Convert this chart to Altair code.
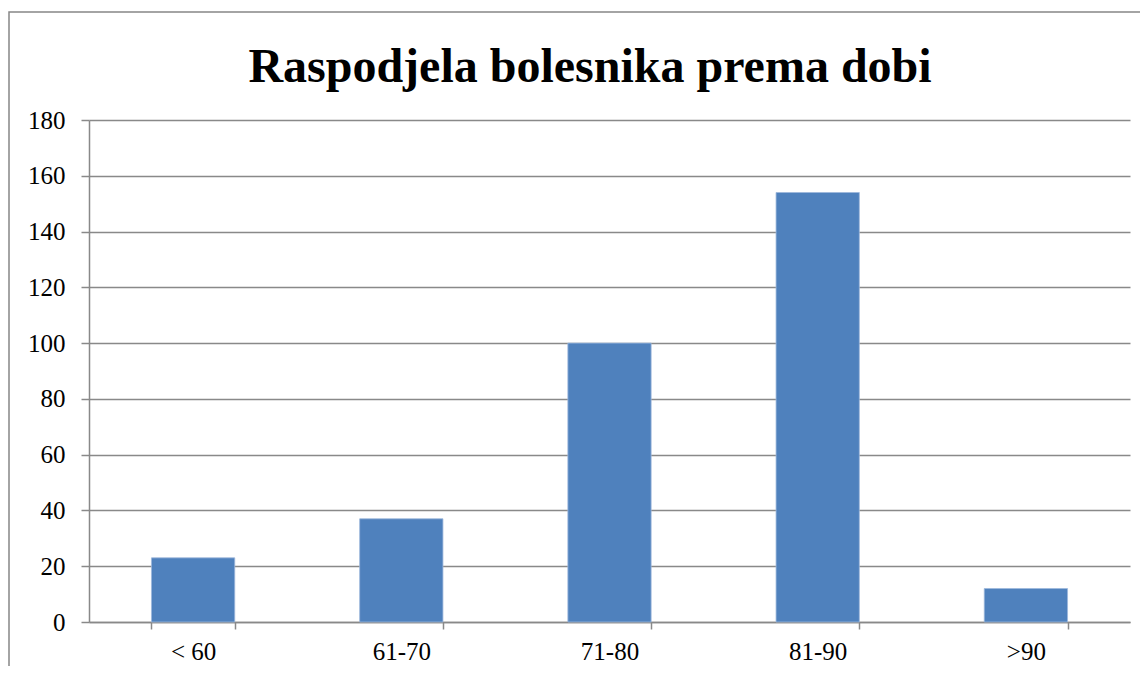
import altair as alt
import pandas as pd

title_text = "Raspodjela bolesnika prema dobi"
categories = ["< 60", "61-70", "71-80", "81-90", ">90"]
counts = [23, 37, 100, 154, 12]
y_ticks = [0, 20, 40, 60, 80, 100, 120, 140, 160, 180]

df = pd.DataFrame({"dob": categories, "broj": counts})

FONT = "Liberation Serif"
GRID = "#898989"

bars = alt.Chart(df).mark_bar(color="#4F81BD", stroke="#9db8dc", strokeWidth=0.8).encode(
    x=alt.X("dob:N", sort=categories, title=None,
            scale=alt.Scale(paddingInner=0.6, paddingOuter=0.3),
            axis=alt.Axis(labelAngle=0, tickBand="extent", tickSize=7,
                          labelPadding=10, grid=False)),
    y=alt.Y("broj:Q", title=None,
            scale=alt.Scale(domain=[0, 180], nice=False),
            axis=alt.Axis(values=y_ticks, tickSize=8, labelPadding=16, grid=True)),
)

frame = alt.Chart(pd.DataFrame({"a": [0]})).mark_rect(
    fillOpacity=0, stroke="#878787", strokeWidth=1.5
).encode(
    x=alt.value(-80), x2=alt.value(1300), y=alt.value(-108), y2=alt.value(800)
)

title = alt.Chart(pd.DataFrame({"t": [title_text]})).mark_text(
    font=FONT, fontSize=48, fontWeight="bold", color="black",
    align="center", baseline="alphabetic"
).encode(
    x=alt.value(501), y=alt.value(-38), text="t:N"
)

chart = alt.layer(bars, frame, title).properties(
    width=1041, height=502,
    autosize=alt.AutoSizeParams(type="none"),
    padding={"left": 81, "top": 112, "right": 10, "bottom": 44},
).configure_view(stroke=None).configure_axis(
    gridDash=[], labelFont=FONT, labelFontSize=25, labelColor="black",
    tickColor=GRID, tickWidth=1.5, domainColor=GRID, domainWidth=1.5,
    gridColor=GRID, gridWidth=1.5, gridOpacity=1
)

chart.save("out.html", embed_options={"renderer": "svg", "actions": False})
